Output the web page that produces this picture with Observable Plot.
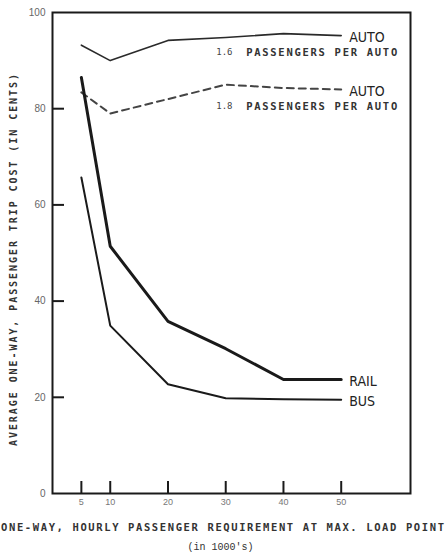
<!DOCTYPE html>
<html>
<head>
<meta charset="utf-8">
<script src="https://cdn.jsdelivr.net/npm/d3@7"></script>
<script src="https://cdn.jsdelivr.net/npm/@observablehq/plot@0.6"></script>
<style>
  body { margin: 0; background: #fff; }
  #chart svg { display: block; }
</style>
</head>
<body>
<div id="chart"></div>
<script>
// Hourly one-way passenger requirement at the max. load point (thousands)
const demand = [5, 10, 20, 30, 40, 50];

// Average one-way passenger trip cost, cents
const auto16 = [93.2, 90.0, 94.2, 94.8, 95.6, 95.2];
const auto18 = [83.4, 79.0, 82.0, 85.0, 84.3, 84.0];
const rail   = [86.5, 51.4, 35.8, 30.1, 23.7, 23.7];
const bus    = [65.7, 34.9, 22.7, 19.8, 19.6, 19.5];

const yTickLabels = [0, 20, 40, 60, 80, 100];
const yInnerTicks = [20, 40, 60, 80];
const xTickLabels = [5, 10, 20, 30, 40, 50];

const yTitle = "AVERAGE ONE-WAY, PASSENGER TRIP COST (IN CENTS)";
const xTitle = "ONE-WAY, HOURLY PASSENGER REQUIREMENT AT MAX. LOAD POINT";
const xUnit = "(in 1000's)";
const modeNames = ["AUTO", "AUTO", "RAIL", "BUS"];
const occupancy = ["1.6", "1.8"];
const occupancyText = "PASSENGERS PER AUTO";

const rows = (values) => demand.map((x, i) => ({x, y: values[i]}));
const lastOf = (values, label, note) => ({x: demand[demand.length - 1], y: values[values.length - 1], label, note});

const ends = [
  lastOf(auto16, modeNames[0], occupancy[0]),
  lastOf(auto18, modeNames[1], occupancy[1]),
  lastOf(rail, modeNames[2]),
  lastOf(bus, modeNames[3])
];
const autoEnds = ends.slice(0, 2);

const ink = "#1a1a1a";
const mono = "'DejaVu Sans Mono', 'Liberation Mono', monospace";
const narrow = "'Liberation Sans Narrow', 'DejaVu Sans Condensed', 'Liberation Sans', sans-serif";

const chart = Plot.plot({
  width: 445,
  height: 557,
  marginLeft: 52,
  marginRight: 35,
  marginTop: 12,
  marginBottom: 64,
  x: {domain: [0, 62], axis: null, label: null},
  y: {domain: [0, 100], axis: null, label: null},
  style: {fontFamily: "'Liberation Sans', Arial, sans-serif", background: "#fff"},
  marks: [
    Plot.frame({stroke: ink, strokeWidth: 2}),
    // inward tick marks
    Plot.axisY(yInnerTicks, {anchor: "left", tickSize: -12, tickFormat: () => "", stroke: ink, strokeWidth: 2, label: null}),
    Plot.axisX(xTickLabels, {anchor: "bottom", tickSize: -12, tickFormat: () => "", stroke: ink, strokeWidth: 2, label: null}),
    // tick labels
    Plot.axisY(yTickLabels, {anchor: "left", tickSize: 0, tickPadding: 7, fontSize: 10, color: "#666", label: null}),
    Plot.axisX(xTickLabels, {anchor: "bottom", tickSize: 0, tickPadding: 5, fontSize: 9, color: "#777", label: null}),
    // cost curves
    Plot.line(rows(auto16), {x: "x", y: "y", stroke: "#2a2a2a", strokeWidth: 1.6}),
    Plot.line(rows(auto18), {x: "x", y: "y", stroke: "#444", strokeWidth: 2, strokeDasharray: "7,5"}),
    Plot.line(rows(rail), {x: "x", y: "y", stroke: ink, strokeWidth: 3}),
    Plot.line(rows(bus), {x: "x", y: "y", stroke: ink, strokeWidth: 2}),
    // curve labels
    Plot.text(ends, {x: "x", y: "y", text: "label", dx: 8, dy: 2, textAnchor: "start", fontFamily: narrow, fontSize: 14, fill: "#222"}),
    Plot.text(autoEnds, {x: "x", y: "y", text: "note", dx: -125, dy: 17, textAnchor: "start", fontFamily: mono, fontSize: 9, fill: "#444"}),
    Plot.text(autoEnds, {x: "x", y: "y", text: () => occupancyText, dx: -95, dy: 17, textAnchor: "start", fontFamily: mono, fontWeight: "bold", fontSize: 10.5, fill: "#333"}),
    // axis titles
    Plot.text([yTitle], {text: (d) => d, frameAnchor: "left", textAnchor: "middle", lineAnchor: "middle", rotate: -90, dx: -39, dy: 7, fontFamily: mono, fontWeight: "bold", fontSize: 10, fill: "#333"}),
    Plot.text([xTitle], {text: (d) => d, frameAnchor: "bottom", textAnchor: "middle", lineAnchor: "middle", dx: -9, dy: 34, fontFamily: mono, fontWeight: "bold", fontSize: 10.5, fill: "#333"}),
    Plot.text([xUnit], {text: (d) => d, frameAnchor: "bottom", textAnchor: "middle", lineAnchor: "middle", dx: -11, dy: 53, fontFamily: "'Liberation Mono', monospace", fontSize: 10, fill: "#333"})
  ]
});

// spread the spaced capital lettering to its full width
const spread = {[yTitle]: 372, [xTitle]: 443, [occupancyText]: 151};
d3.select(chart).selectAll("text").each(function () {
  const t = this.textContent;
  if (spread[t]) {
    d3.select(this).attr("textLength", spread[t]).attr("lengthAdjust", "spacing");
  }
});

document.getElementById("chart").appendChild(chart);
</script>
</body>
</html>
